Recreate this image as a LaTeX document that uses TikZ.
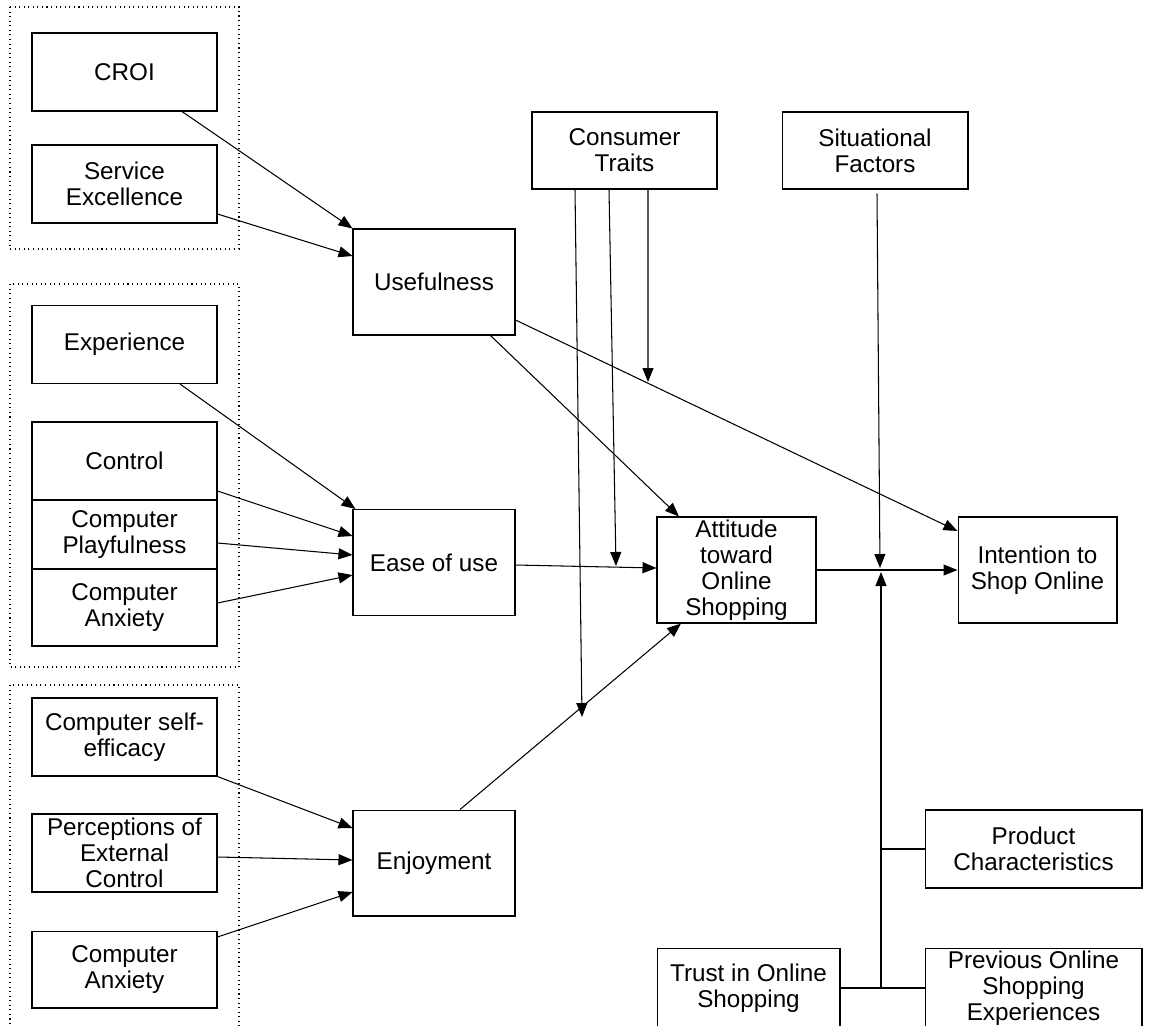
\documentclass[tikz,border=0pt]{standalone}
\usepackage{fontspec}
\setmainfont{Liberation Sans}
\usetikzlibrary{arrows.meta}

\newcommand{\pxscl}{0.02}
\newcommand{\cs}[1]{#1*\pxscl}
\newcommand{\lbl}{\fontsize{13.8pt}{14.9pt}\selectfont}
\newcommand{\bx}{\node[draw, rectangle, inner sep=0pt, align=center, font=\lbl, line width=0.6pt]}
\newcommand{\sbx}{\bx[minimum width=3.7cm, minimum height=1.56cm]}
\newcommand{\cbx}{\bx[minimum width=3.24cm, minimum height=2.12cm]}
\newcommand{\obx}{\bx[minimum width=3.18cm, minimum height=2.12cm]}

\tikzset{
    arr/.style={-{Triangle[length=0.28cm, width=0.22cm]}, line width=0.6pt},
    ln/.style={line width=0.6pt},
    grp/.style={dotted, line width=0.6pt}
}

\begin{document}
\begin{tikzpicture}
            \useasboundingbox (0,0) rectangle (\cs{1149}, -\cs{1025});

            \draw[grp] (\cs{10}, -\cs{7}) rectangle (\cs{239}, -\cs{249});
            \draw[grp] (\cs{10}, -\cs{284}) rectangle (\cs{239}, -\cs{667});
            \draw[grp] (\cs{10}, -\cs{685}) rectangle (\cs{239}, -\cs{1045});

            \sbx (croi) at (\cs{124.5}, -\cs{72}) {CROI};
            \sbx (serv) at (\cs{124.5}, -\cs{184}) {Service\\Excellence};
            \sbx (expe) at (\cs{124.5}, -\cs{344.5}) {Experience};
            \sbx (ctrl) at (\cs{124.5}, -\cs{461}) {Control};
            \sbx[minimum height=1.38cm] (play) at (\cs{124.5}, -\cs{534.5}) {Computer\\Playfulness};
            \sbx[minimum height=1.54cm] (anx1) at (\cs{124.5}, -\cs{607.5}) {Computer\\Anxiety};
            \sbx (cse) at (\cs{124.5}, -\cs{737}) {Computer self-\\efficacy};
            \sbx (pec) at (\cs{124.5}, -\cs{853}) {Perceptions of\\External\\Control};
            \sbx[minimum height=1.54cm] (anx2) at (\cs{124.5}, -\cs{969.5}) {Computer\\Anxiety};

            \cbx (use) at (\cs{434}, -\cs{282}) {Usefulness};
            \cbx (ease) at (\cs{434}, -\cs{562.5}) {Ease of use};
            \cbx (enj) at (\cs{434}, -\cs{863}) {Enjoyment};

            \sbx[minimum height=1.54cm] (cons) at (\cs{624.5}, -\cs{150.5}) {Consumer\\Traits};
            \sbx[minimum width=3.72cm, minimum height=1.54cm] (situ) at (\cs{875}, -\cs{150.5}) {Situational\\Factors};

            \obx (att) at (\cs{736.5}, -\cs{570}) {Attitude\\toward\\Online\\Shopping};
            \obx (inte) at (\cs{1037.5}, -\cs{570}) {Intention to\\Shop Online};

            \sbx[minimum width=4.34cm] (prod) at (\cs{1033.5}, -\cs{849}) {Product\\Characteristics};
            \sbx[minimum width=3.66cm, minimum height=1.6cm] (trust) at (\cs{748.5}, -\cs{988}) {Trust in Online\\Shopping};
            \sbx[minimum width=4.34cm, minimum height=1.6cm] (prev) at (\cs{1033.5}, -\cs{988}) {Previous Online\\Shopping\\Experiences};

            \coordinate (ca) at (\cs{582}, -\cs{717});
            \coordinate (cb) at (\cs{616}, -\cs{566});
            \coordinate (cc) at (\cs{648}, -\cs{382});
            \coordinate (jt) at (\cs{880}, -\cs{568});
            \coordinate (jb) at (\cs{881}, -\cs{572});
            \coordinate (jp) at (\cs{881}, -\cs{849});
            \coordinate (jl) at (\cs{881}, -\cs{988});

            % drivers of usefulness, ease of use, enjoyment
            \draw[arr]
                ([xshift=\cs{57.5}cm]croi.south) -- (use.north west);
            \draw[arr]
                ([yshift=-\cs{30}cm]serv.east) -- ([yshift=\cs{26}cm]use.west);
            \draw[arr]
                ([xshift=\cs{55.5}cm]expe.south) -- ([xshift=\cs{3}cm]ease.north west);
            \draw[arr]
                ([yshift=-\cs{30}cm]ctrl.east) -- ([yshift=\cs{26.5}cm]ease.west);
            \draw[arr]
                ([yshift=-\cs{8.5}cm]play.east) -- ([yshift=\cs{7.5}cm]ease.west);
            \draw[arr]
                ([yshift=\cs{4.5}cm]anx1.east) -- ([yshift=-\cs{12.5}cm]ease.west);
            \draw[arr]
                (cse.south east) -- ([yshift=\cs{35}cm]enj.west);
            \draw[arr]
                ([yshift=-\cs{4}cm]pec.east) -- ([yshift=\cs{3}cm]enj.west);
            \draw[arr]
                ([yshift=\cs{32.5}cm]anx2.east) -- ([yshift=-\cs{29}cm]enj.west);

            % towards attitude and intention
            \draw[arr]
                ([xshift=\cs{56.5}cm]use.south) -- ([xshift=-\cs{57.5}cm]att.north);
            \draw[arr]
                ([yshift=-\cs{38}cm]use.east) -- ([yshift=\cs{39}cm]inte.west);
            \draw[arr]
                ([yshift=-\cs{2.5}cm]ease.east) -- ([yshift=\cs{2}cm]att.west);
            \draw[arr]
                ([xshift=\cs{26}cm]enj.north) -- ([xshift=-\cs{55.5}cm]att.south);
            \draw[arr]
                (att.east) -- (inte.west);

            % moderators
            \draw[arr]
                ([xshift=-\cs{49.5}cm]cons.south) -- (ca);
            \draw[arr]
                ([xshift=-\cs{15.5}cm]cons.south) -- (cb);
            \draw[arr]
                ([xshift=\cs{23.5}cm]cons.south) -- (cc);
            \draw[arr]
                ([xshift=\cs{2}cm, yshift=-\cs{4}cm]situ.south) -- (jt);
            \draw[arr]
                (jl) -- (jb);

            \draw[ln]
                (trust.east) -- (prev.west)
                (prod.west) -- (jp)
                ;

        \end{tikzpicture}
\end{document}
